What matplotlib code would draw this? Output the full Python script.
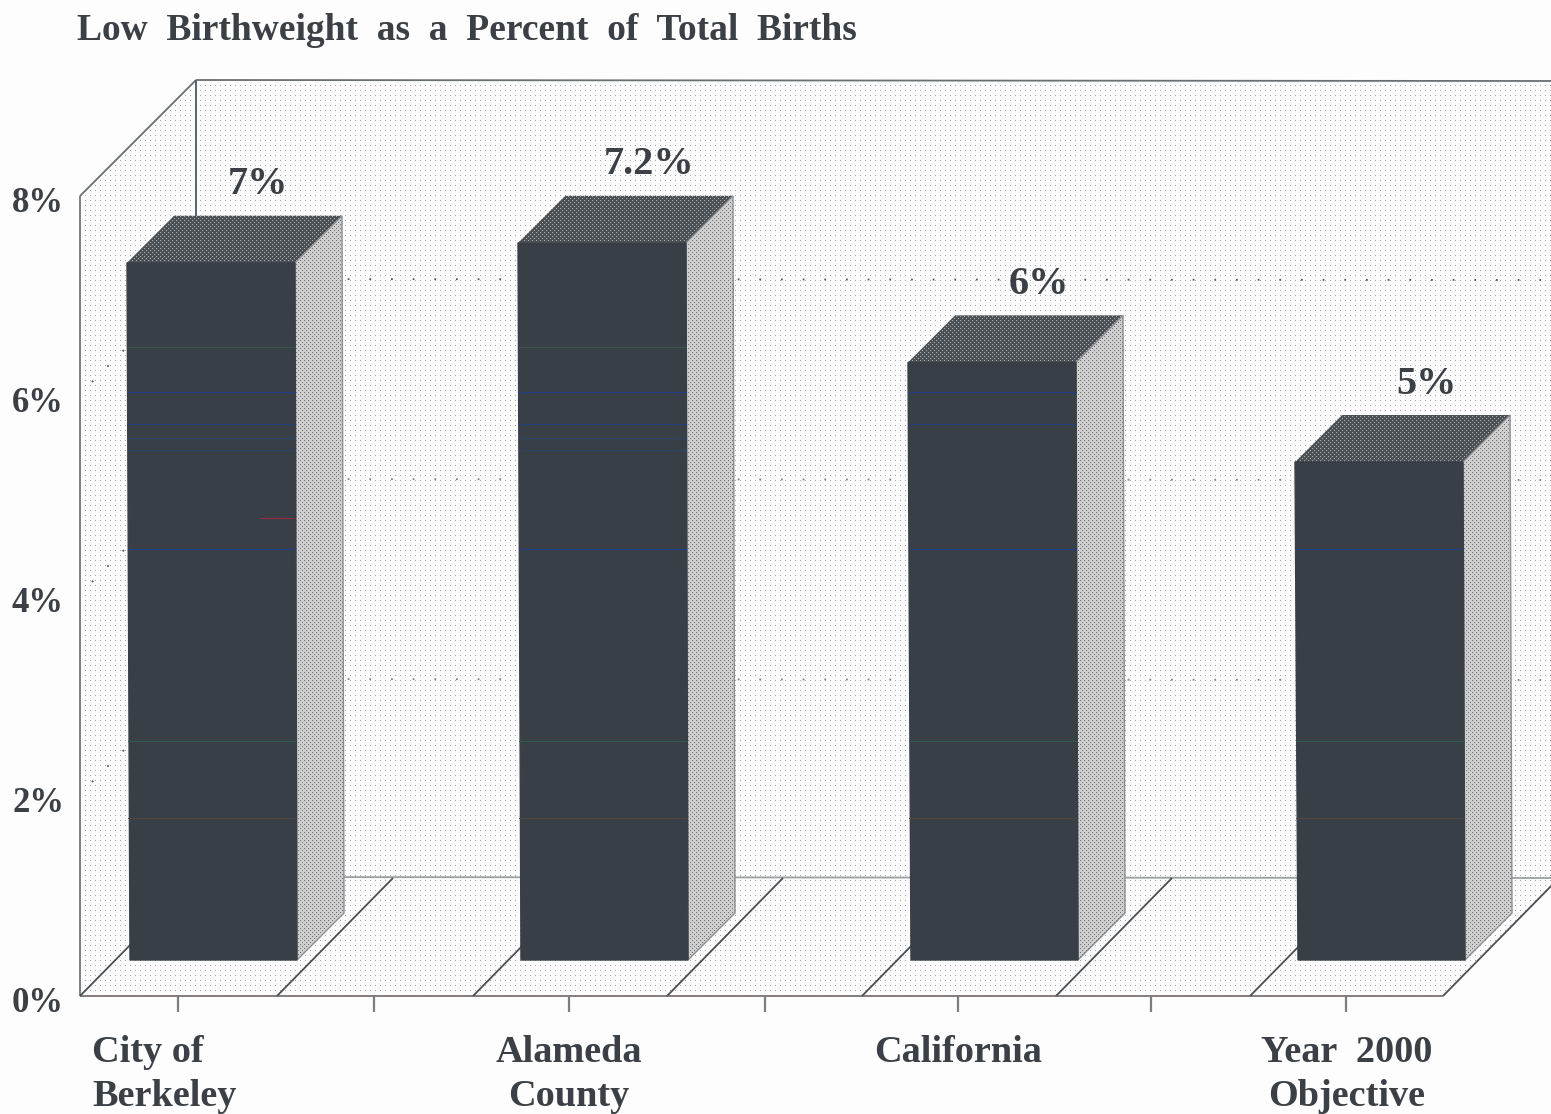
import numpy as np
import matplotlib
matplotlib.use("Agg")
import matplotlib.pyplot as plt
from matplotlib.patches import Polygon, Rectangle

# values from the chart
categories = ["City of\nBerkeley", "Alameda\nCounty", "California", "Year  2000\nObjective"]
values = [7.0, 7.2, 6.0, 5.0]
value_labels = ["7%", "7.2%", "6%", "5%"]
y_ticks = [0, 2, 4, 6, 8]
y_tick_labels = ["0%", "2%", "4%", "6%", "8%"]
title = "Low  Birthweight  as  a  Percent  of  Total  Births"

W, H = 1551, 1114
plt.rcParams['font.family'] = ['Liberation Serif', 'DejaVu Serif']

fig = plt.figure(figsize=(W / 100, H / 100), dpi=100, facecolor='#fdfdfd')
ax = fig.add_axes([0, 0, 1, 1])
ax.axis('off')

# picture layout
AXIS_Y0 = 996      # front zero line
PX = 100           # pixels per percent on the axis
BAR_PX = 99.6      # pixels per percent on the bars
DX, DY = 116, 118  # depth of the box
BAR_Y0 = 960
BAR_DEPTH = 47
BAR_W = 167
bar_left = [130, 521, 911, 1298]
tick_x = [178, 374, 569, 765, 958, 1151, 1346]
floor_x = [80, 277, 473, 667, 862, 1056, 1250, 1443]
INK = '#3a4045'
BAR = '#383f46'


def stipple(points, pitch, fg, bg, zorder, lattice=False):
    yy, xx = np.mgrid[0:H, 0:W]
    mask = ((xx % pitch == 0) & (yy % pitch == 0))
    if lattice:
        half = pitch // 2
        mask = mask | ((xx % pitch == half) & (yy % pitch == half))
    mask = mask.astype(float)
    fg = np.array(matplotlib.colors.to_rgb(fg))
    bg = np.array(matplotlib.colors.to_rgb(bg))
    img = bg + mask[..., None] * (fg - bg)
    im = ax.imshow(img, extent=(0, W, H, 0), interpolation='nearest', aspect='auto', zorder=zorder)
    patch = Polygon(points, closed=True, transform=ax.transData, fill=False, edgecolor='none')
    ax.add_patch(patch)
    im.set_clip_path(patch)


def line(xs, ys, **kw):
    kw.setdefault('color', '#555b60')
    kw.setdefault('lw', 1.3)
    kw.setdefault('zorder', 2)
    ax.plot(xs, ys, solid_capstyle='butt', **kw)


def streak(x0, x1, y, color):
    ax.add_patch(Rectangle((x0, y), x1 - x0, 1.4, facecolor=color, edgecolor='none',
                           lw=0, antialiased=False, zorder=6))


# walls and floor share one dotted paper
top_y = AXIS_Y0 - 8 * PX
stipple([(80, top_y), (196, 80), (W, 81), (W, 885), (1443, AXIS_Y0), (80, AXIS_Y0)],
        5, '#a4a4ac', '#fbfbfb', 1)

line([80, 80], [top_y, AXIS_Y0], color='#70777c')
line([80, 196], [top_y, 80], color='#6a6f72')
line([196, 196], [80, 240], color='#4a5a60')
line([196, W], [80, 81], color='#6a6f72')
line([80, 1443], [AXIS_Y0, AXIS_Y0], color='#7a7472')
line([196, W], [877, 878], color='#9a9fa0')
for x in floor_x:
    line([x, x + DX], [AXIS_Y0, AXIS_Y0 - DY], color='#4a4f52')
for x in tick_x:
    line([x, x], [AXIS_Y0, AXIS_Y0 + 16], color='#7a7e80', lw=1.6)

# dotted gridlines, back wall then left wall
grid_colors = {6: '#555a60', 4: '#80858a', 2: '#80858a'}
for t in y_ticks[1:-1]:
    y = AXIS_Y0 - DY - t * PX + 1
    line([196, W], [y, y + 1], color=grid_colors[t], lw=1.3, ls=(0, (1, 11)))
    line([92, 126], [AXIS_Y0 - t * PX - 14, AXIS_Y0 - t * PX - 48], color='#50555a', lw=1.3, ls=(0, (1, 11)))

# scan streaks seen on the bar fronts: (y, colour, smallest value of the bar showing it)
streaks = [(347, '#35584a', 6.5), (392, '#1b3f8c', 5.5), (424, '#22407c', 5.5),
           (438, '#2c4468', 6.5), (450, '#2c4468', 6.5),
           (549, '#1b3f8c', 0), (741, '#2f5a50', 0), (818, '#55463f', 0)]

for left, v, lab in zip(bar_left, values, value_labels):
    top = BAR_Y0 - v * BAR_PX
    right = left + BAR_W
    # small tilt of the scan: the top sits 3 px left of the bottom
    tl, tr = left - 3, right - 2
    front = [(tl, top), (tr, top), (right, BAR_Y0), (left, BAR_Y0)]
    side = [(tr, top), (tr + BAR_DEPTH, top - BAR_DEPTH), (right + BAR_DEPTH, BAR_Y0 - BAR_DEPTH), (right, BAR_Y0)]
    lid = [(tl, top), (tl + BAR_DEPTH, top - BAR_DEPTH), (tr + BAR_DEPTH, top - BAR_DEPTH), (tr, top)]
    stipple(side, 4, '#6c6e72', '#cfcfd0', 3, lattice=True)
    stipple(lid, 4, '#b0b2b4', '#4c5156', 3, lattice=True)
    ax.add_patch(Polygon(side, closed=True, fill=False, edgecolor='#8a8e92', lw=1.0, zorder=4))
    ax.add_patch(Polygon(front, closed=True, facecolor=BAR, edgecolor=BAR, lw=1, zorder=5))
    for y, c, vmin in streaks:
        if v >= vmin:
            streak(left - 2, right - 1, y, c)
    if v == values[0]:
        streak(right - 37, right - 2, 518, '#9a2a3a')
    ax.text(tl + 131, top - 78, lab, ha='center', va='center', fontsize=29, fontweight='bold', color=INK, zorder=7)

for t, lab in zip(y_ticks, y_tick_labels):
    ax.text(64, AXIS_Y0 - t * PX + 7, lab, ha='right', va='center', fontsize=25, fontweight='bold', color=INK)

# category labels: first one is set flush left in the original
label_x = [92, 569, 958, 1347]
label_ha = ['left', 'center', 'center', 'center']
for x, ha, lab in zip(label_x, label_ha, categories):
    ax.text(x, 1035, lab, ha=ha, va='top', fontsize=27.5, fontweight='bold', color=INK,
            linespacing=1.32, multialignment=ha)

ax.text(77, 31, title, ha='left', va='center', fontsize=27, fontweight='bold', color=INK)

ax.set_xlim(0, W)
ax.set_ylim(H, 0)
fig.savefig('out.png', dpi=100, facecolor=fig.get_facecolor())
